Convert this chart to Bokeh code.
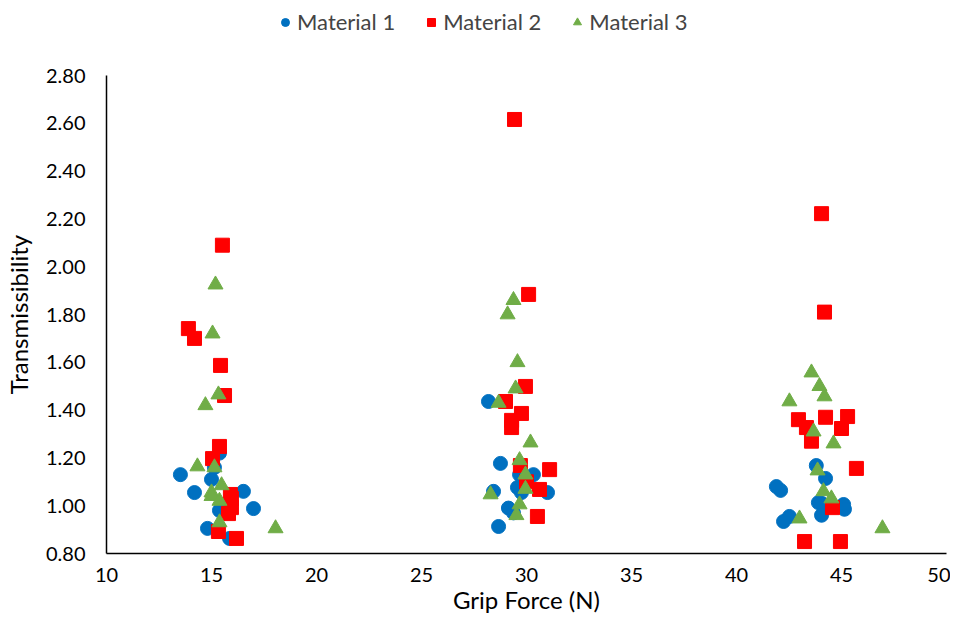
from bokeh.plotting import figure
from bokeh.models import Legend, LegendItem, FixedTicker, NumeralTickFormatter, Range1d
from bokeh.embed import file_html
from bokeh.resources import INLINE

# ---- data ----
m1_x = [15.38, 15.14, 13.52, 15.0, 14.19, 16.52, 17.0, 15.38, 14.81, 15.86,
        28.19, 28.76, 30.33, 29.67, 29.57, 29.76, 31.0, 28.43, 29.14, 29.38, 28.67,
        43.8, 44.24, 41.9, 42.1, 43.9, 44.05, 45.1, 45.14, 44.05, 42.52, 42.24]
m1_y = [1.22, 1.16, 1.13, 1.11, 1.055, 1.06, 0.988, 0.98, 0.905, 0.863,
        1.436, 1.177, 1.13, 1.13, 1.076, 1.055, 1.055, 1.06, 0.99, 0.97, 0.913,
        1.168, 1.114, 1.08, 1.064, 1.013, 1.01, 1.005, 0.985, 0.96, 0.955, 0.934]

m2_x = [15.52, 13.9, 14.19, 15.43, 15.62, 15.38, 15.05, 15.9, 15.95, 15.95, 15.81, 15.33, 16.19,
        29.43, 30.1, 29.95, 29.0, 29.76, 29.29, 29.29, 29.71, 31.1, 30.0, 30.62, 30.52,
        44.05, 44.19, 42.95, 44.24, 45.29, 43.33, 45.0, 43.57, 45.71, 44.57, 43.24, 44.95]
m2_y = [2.09, 1.741, 1.70, 1.587, 1.461, 1.248, 1.197, 1.047, 1.03, 0.992, 0.967, 0.892, 0.863,
        2.616, 1.884, 1.499, 1.436, 1.386, 1.357, 1.327, 1.168, 1.151, 1.10, 1.068, 0.955,
        2.222, 1.81, 1.36, 1.37, 1.373, 1.327, 1.323, 1.27, 1.156, 0.992, 0.85, 0.85]

m3_x = [15.19, 15.05, 15.33, 14.71, 14.33, 15.14, 15.48, 15.0, 15.0, 15.38, 15.38, 18.05,
        29.38, 29.1, 29.57, 29.48, 28.67, 30.19, 29.67, 29.95, 29.95, 28.29, 29.67, 29.52,
        43.57, 43.95, 44.19, 42.52, 43.67, 44.62, 43.86, 44.14, 44.52, 43.0, 46.95]
m3_y = [1.925, 1.72, 1.465, 1.42, 1.164, 1.16, 1.085, 1.055, 1.04, 1.02, 0.93, 0.905,
        1.86, 1.80, 1.60, 1.49, 1.43, 1.264, 1.19, 1.13, 1.07, 1.047, 1.005, 0.96,
        1.557, 1.50, 1.457, 1.436, 1.31, 1.26, 1.147, 1.06, 1.03, 0.946, 0.905]

series_names = ["Material 1", "Material 2", "Material 3"]
x_ticks = [10, 15, 20, 25, 30, 35, 40, 45, 50]
y_ticks = [0.8, 1.0, 1.2, 1.4, 1.6, 1.8, 2.0, 2.2, 2.4, 2.6, 2.8]
y_min, y_max = 0.8, 2.8

FONT = "Lato"
W, H = 950, 621

# frame in page pixels; the y range runs past 2.80 so that the legend can sit
# in the frame above the data area; the axis line is bounded to 0.8-2.8
LEFT_PX, RIGHT_PX, TOP_PX, BOTTOM_PX = 114, 954, 17, 561
DATA_TOP_PX = 83
px_per_unit = (BOTTOM_PX - DATA_TOP_PX) / (y_max - y_min)
y_top = y_min + (BOTTOM_PX - TOP_PX) / px_per_unit

p = figure(width=W, height=H, output_backend="svg", toolbar_location=None,
           x_range=Range1d(10, 50), y_range=Range1d(y_min, y_top),
           min_border_left=LEFT_PX - 8, min_border_right=W + 8 - RIGHT_PX,
           min_border_top=TOP_PX - 8, min_border_bottom=H + 8 - BOTTOM_PX)
p.outline_line_color = None
p.xgrid.visible = False
p.ygrid.visible = False

r1 = p.scatter(m1_x, m1_y, marker="circle", size=14, fill_color="#0070C0", line_color="#0070C0")
r2 = p.scatter(m2_x, m2_y, marker="square", size=14, fill_color="#FF0000", line_color="#FF0000")
r3 = p.scatter(m3_x, m3_y, marker="triangle", size=15, fill_color="#70AD47", line_color="#70AD47")

for ax in (p.xaxis[0], p.yaxis[0]):
    ax.axis_line_color = "black"
    ax.axis_line_width = 1.5
    ax.major_tick_line_color = None
    ax.minor_tick_line_color = None
    ax.major_tick_in = 0
    ax.major_tick_out = 0
    ax.major_label_text_font = FONT
    ax.major_label_text_font_size = "20px"
    ax.major_label_text_color = "black"
    ax.axis_label_text_font = FONT
    ax.axis_label_text_font_style = "normal"
    ax.axis_label_text_color = "black"

p.xaxis.axis_label_text_font_size = "24px"
p.yaxis.axis_label_text_font_size = "24px"
p.yaxis.bounds = (y_min, y_max)
p.xaxis.ticker = FixedTicker(ticks=x_ticks)
p.yaxis.ticker = FixedTicker(ticks=y_ticks)
p.yaxis.formatter = NumeralTickFormatter(format="0.00")
p.xaxis.axis_label = "Grip Force (N)"
# trailing en spaces keep the rotated title centred on the 0.8-2.8 data area
p.yaxis.axis_label = "Transmissibility" + "\u2002" * 5 + "\u00a0"
p.xaxis.major_label_standoff = 14
p.yaxis.major_label_standoff = 21
p.xaxis.axis_label_standoff = 0
p.yaxis.axis_label_standoff = 10

legend = Legend(items=[LegendItem(label=series_names[0], renderers=[r1]),
                       LegendItem(label=series_names[1], renderers=[r2]),
                       LegendItem(label=series_names[2], renderers=[r3])],
                orientation="horizontal", location=(169, BOTTOM_PX - 43),
                label_text_font=FONT, label_text_font_size="22px",
                glyph_width=20, glyph_height=20, spacing=26, label_standoff=2,
                border_line_color=None, background_fill_alpha=0, margin=0, padding=2)
p.add_layout(legend, "center")

open("out.html", "w").write(file_html(p, INLINE))
